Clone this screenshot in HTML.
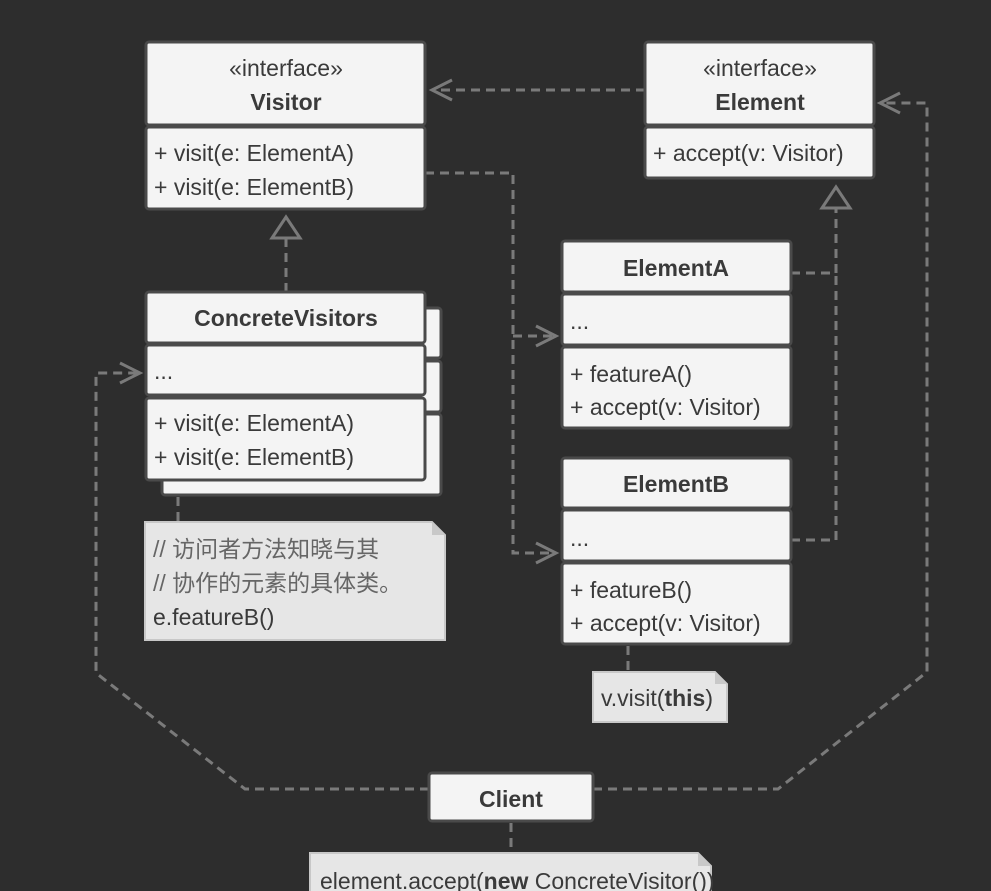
<!DOCTYPE html>
<html><head><meta charset="utf-8"><style>
html,body{margin:0;padding:0;background:#2d2d2d;}
svg{display:block}
text{font-family:"Liberation Sans","Noto Sans CJK SC",sans-serif;fill:#3a3a3a;font-size:23px}
.b{font-weight:bold}
.box{fill:#f4f4f4;stroke:#4a4a4a;stroke-width:3}
.note{fill:#e6e6e6;stroke:#c8c8c8;stroke-width:2}
.dl{fill:none;stroke:#7a7a7a;stroke-width:3;stroke-dasharray:9,6}
.sl{fill:none;stroke:#7a7a7a;stroke-width:3}
</style></head><body>
<svg width="991" height="891" viewBox="0 0 991 891" xmlns="http://www.w3.org/2000/svg">
<rect width="991" height="891" fill="#2d2d2d"/>

<path class="dl" d="M645,90 H432"/>
<path class="sl" d="M452,80 L432,90 L452,100"/>
<path class="dl" d="M425,173 H513 V553 H556 M513,336 H556"/>
<path class="sl" d="M536,326 L556,336 L536,346 M536,543 L556,553 L536,563"/>
<path class="dl" d="M791,273 H836 V209 M791,540 H836 V273"/>
<path class="sl" d="M822,208 L836,187 L850,208 Z" fill="#2d2d2d"/>
<path class="dl" d="M286,292 V239"/>
<path class="sl" d="M272,238 L286,217 L300,238 Z" fill="#2d2d2d"/>
<path class="dl" d="M429,789 H245 L96,673 V373 H140"/>
<path class="sl" d="M120,363 L140,373 L120,383"/>
<path class="dl" d="M593,789 H778 L927,672 V103 H880"/>
<path class="sl" d="M900,93 L880,103 L900,113"/>
<path class="dl" d="M178,482 V522 M628,646 V672 M511,823 V853" stroke-dasharray="7,6"/>

<rect class="box" x="146" y="42" width="279" height="83" rx="3"/>
<rect class="box" x="146" y="127" width="279" height="82" rx="3"/>
<text x="286" y="76" text-anchor="middle">«interface»</text>
<text x="286" y="110" text-anchor="middle" class="b">Visitor</text>
<text x="154" y="161">+ visit(e: ElementA)</text>
<text x="154" y="195">+ visit(e: ElementB)</text>

<rect class="box" x="645" y="42" width="229" height="83" rx="3"/>
<rect class="box" x="645" y="127" width="229" height="51" rx="3"/>
<text x="760" y="76" text-anchor="middle">«interface»</text>
<text x="760" y="110" text-anchor="middle" class="b">Element</text>
<text x="653" y="161">+ accept(v: Visitor)</text>

<rect class="box" x="162" y="308" width="279" height="50" rx="3"/>
<rect class="box" x="162" y="361" width="279" height="51" rx="3"/>
<rect class="box" x="162" y="414" width="279" height="81" rx="3"/>
<rect class="box" x="146" y="292" width="279" height="51" rx="3"/>
<rect class="box" x="146" y="345" width="279" height="50" rx="3"/>
<rect class="box" x="146" y="398" width="279" height="82" rx="3"/>
<text x="286" y="326" text-anchor="middle" class="b">ConcreteVisitors</text>
<text x="154" y="379">...</text>
<text x="154" y="431">+ visit(e: ElementA)</text>
<text x="154" y="465">+ visit(e: ElementB)</text>

<rect class="box" x="562" y="241" width="229" height="51" rx="3"/>
<rect class="box" x="562" y="294" width="229" height="51" rx="3"/>
<rect class="box" x="562" y="347" width="229" height="81" rx="3"/>
<text x="676" y="276" text-anchor="middle" class="b">ElementA</text>
<text x="570" y="329">...</text>
<text x="570" y="382">+ featureA()</text>
<text x="570" y="415">+ accept(v: Visitor)</text>

<rect class="box" x="562" y="458" width="229" height="50" rx="3"/>
<rect class="box" x="562" y="510" width="229" height="51" rx="3"/>
<rect class="box" x="562" y="563" width="229" height="81" rx="3"/>
<text x="676" y="492" text-anchor="middle" class="b">ElementB</text>
<text x="570" y="546">...</text>
<text x="570" y="598">+ featureB()</text>
<text x="570" y="631">+ accept(v: Visitor)</text>

<path class="note" d="M145,522 H432 L445,535 V640 H145 Z"/>
<path d="M432,522 V535 H445" fill="#c8c8c8"/>
<text x="153" y="557" style="fill:#666" font-size="22">// 访问者方法知晓与其</text>
<text x="153" y="591" style="fill:#666" font-size="22">// 协作的元素的具体类。</text>
<text x="153" y="625" font-size="21">e.featureB()</text>

<path class="note" d="M593,672 H715 L727,684 V722 H593 Z"/>
<path d="M715,672 V684 H727" fill="#c8c8c8"/>
<text x="601" y="706" font-size="21">v.visit(<tspan class="b">this</tspan>)</text>

<rect class="box" x="429" y="773" width="164" height="48" rx="3"/>
<text x="511" y="807" text-anchor="middle" class="b">Client</text>

<path class="note" d="M310,853 H698 L711,866 V900 H310 Z"/>
<path d="M698,853 V866 H711" fill="#c8c8c8"/>
<text x="320" y="889" font-size="21">element.accept(<tspan class="b">new</tspan> ConcreteVisitor())</text>
</svg>
</body></html>
